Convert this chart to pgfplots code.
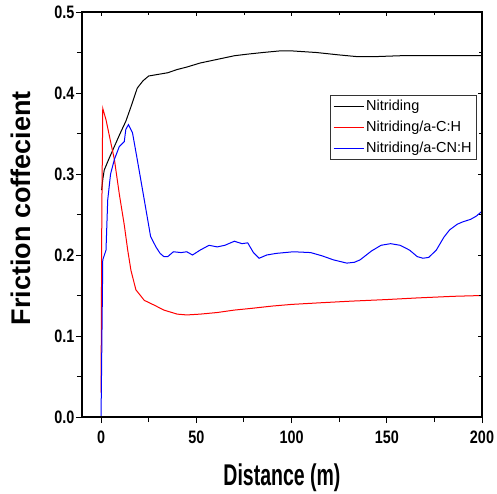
\documentclass[border=0pt]{standalone}
\usepackage{pgfplots}
\pgfplotsset{compat=1.18}
\usepackage{fontspec}
\setmainfont{Liberation Sans}
\newcommand\tl[1]{\scalebox{0.8}[1]{\fontsize{18}{20}\selectfont\bfseries #1}}
\begin{document}
\begin{tikzpicture}
\begin{axis}[
  name=ax,
  scale only axis,
  width=400pt, height=405pt,
  xmin=-10, xmax=200, ymin=0, ymax=0.5,
  axis line style={line width=1.1pt},
  xtick={0,50,100,150,200},
  xticklabels={\tl{0},\tl{50},\tl{100},\tl{150},\tl{200}},
  ytick={0,0.1,0.2,0.3,0.4,0.5},
  yticklabels={\tl{0.0},\tl{0.1},\tl{0.2},\tl{0.3},\tl{0.4},\tl{0.5}},
  minor xtick={25,75,125,175},
  minor ytick={0.05,0.15,0.25,0.35,0.45},
  tick align=outside,
  xtick pos=bottom, ytick pos=left,
  major tick length=6pt, minor tick length=5pt,
  tick style={line width=0.9pt, black},
  xticklabel style={yshift=-4pt},
  yticklabel style={xshift=2pt},
  xlabel={\scalebox{0.65}[1]{\fontsize{30}{34}\selectfont\bfseries Distance (m)}},
  ylabel={\fontsize{27}{30}\selectfont\bfseries Friction coffecient},
  every axis x label/.style={at={(axis description cs:0.5,-0.15)}, anchor=center},
  every axis y label/.style={at={(axis description cs:-0.1525,0.515)}, rotate=90, anchor=center},
  legend style={at={(rel axis cs:0.9875,0.795)}, anchor=north east,
    draw=black!80, line width=0.6pt, font=\fontsize{14.5}{17}\selectfont,
    row sep=5pt, inner sep=3pt,
    cells={anchor=west}},
  legend image code/.code={\draw[mark repeat=2,mark phase=2,#1] plot coordinates {(0pt,0pt) (15pt,0pt) (30pt,0pt)};},
]
\addplot[black, line width=1pt] coordinates {
(0.3,0.280)(1,0.295)(1.7,0.305)(4,0.318)(7,0.334)(10,0.350)(13,0.365)(16,0.385)(19,0.406)(22,0.415)(25,0.421)(30,0.423)(35,0.425)(40,0.429)(45,0.432)(52,0.437)(60,0.441)(70,0.446)(77,0.448)(85,0.450)(94,0.452)(100,0.452)(113,0.450)(125,0.447)(134,0.445)(145,0.445)(157,0.446)(170,0.446)(185,0.446)(200,0.446)};
\addlegendentry{Nitriding}
\addplot[red, line width=1pt] coordinates {
(0,0.03)(0.4,0.25)(0.9,0.381)(2.6,0.367)(5,0.340)(7,0.318)(9.6,0.275)(12.2,0.237)(14,0.206)(15.7,0.181)(18.3,0.157)(22.7,0.144)(28,0.138)(33,0.132)(40,0.127)(45,0.126)(52,0.127)(61,0.129)(70,0.132)(78.5,0.134)(90,0.137)(100,0.139)(115,0.141)(131,0.143)(150,0.145)(166,0.147)(185,0.149)(200,0.150)};
\addlegendentry{Nitriding/a-C:H}
\addplot[color=blue, line width=1pt] coordinates {
(0,0.0)(0.9,0.194)(2.6,0.206)(3.5,0.268)(5,0.300)(7,0.318)(9.6,0.334)(12.2,0.340)(13,0.355)(14.4,0.361)(16.5,0.351)(19,0.318)(22.7,0.268)(26,0.223)(28.8,0.210)(31,0.202)(33,0.198)(35,0.198)(38,0.204)(42,0.203)(45,0.204)(48,0.200)(52,0.206)(56.7,0.212)(61,0.210)(65,0.212)(70,0.217)(74,0.214)(77,0.215)(80,0.203)(83,0.196)(87,0.200)(92,0.202)(101,0.204)(110,0.203)(116,0.199)(122,0.194)(129,0.190)(133,0.191)(136,0.194)(142,0.205)(147,0.212)(152,0.214)(157,0.212)(162,0.206)(166,0.198)(169,0.196)(172,0.197)(176,0.206)(180,0.222)(183,0.231)(187,0.238)(190,0.241)(194,0.244)(197,0.248)(200,0.254)};
\addlegendentry{Nitriding/a-CN:H}
\end{axis}
\begin{axis}[
  scale only axis,
  width=400pt, height=405pt,
  xmin=-10, xmax=200, ymin=0, ymax=0.5,
  axis line style={line width=1.1pt},
  xtick={0,50,100,150,200}, ytick={0,0.1,0.2,0.3,0.4,0.5},
  minor xtick={25,75,125,175},
  minor ytick={0.05,0.15,0.25,0.35,0.45},
  xticklabels={}, yticklabels={},
  tick align=inside,
  xtick pos=top, ytick pos=right,
  major tick length=4pt, minor tick length=3pt,
  tick style={line width=0.8pt, black},
]
\end{axis}
\pgfresetboundingbox
\path ([xshift=-82pt,yshift=-76pt]ax.south west) rectangle ([xshift=15pt,yshift=12pt]ax.north east);
\end{tikzpicture}
\end{document}
